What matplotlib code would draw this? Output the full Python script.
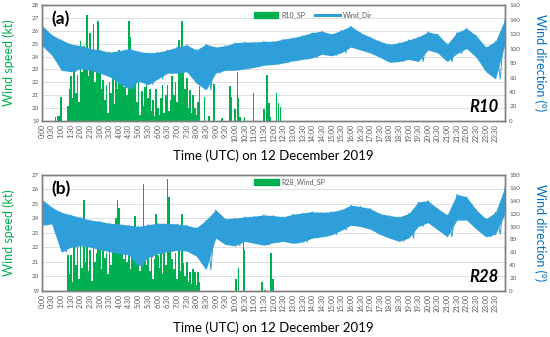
import matplotlib
matplotlib.use("Agg")
import matplotlib.pyplot as plt
from matplotlib.patches import Patch
from matplotlib.lines import Line2D

plt.rcParams['font.family'] = ['Lato', 'DejaVu Sans']

# x tick labels every 30 min
tick_minutes = list(range(0, 1440, 30))
tick_labels = [f"{m // 60}:{m % 60:02d}" for m in tick_minutes]

# wind direction envelope, every 30 min (deg)
dir_minutes = list(range(0, 1441, 30))
r10_dir_hi = [132, 119, 112, 106, 104, 100, 98, 95, 97, 100, 96, 94, 95, 98, 102, 105,
              98, 106, 102, 104, 108, 109, 109, 110, 110, 113, 115, 118, 122, 124, 120, 125,
              131, 122, 116, 110, 106, 108, 112, 116, 123, 120, 106, 122, 128, 118, 102, 110, 141]
r10_dir_lo = [104, 91, 70, 68, 72, 70, 66, 61, 52, 44, 55, 50, 58, 66, 66, 68,
              52, 43, 66, 70, 70, 72, 74, 77, 78, 80, 83, 85, 87, 92, 90, 94,
              102, 98, 94, 88, 81, 82, 85, 82, 98, 94, 82, 93, 100, 88, 68, 58, 107]
r28_dir_hi = [142, 130, 122, 118, 114, 110, 108, 105, 104, 102, 100, 103, 105, 105, 104, 102,
              98, 110, 126, 112, 113, 115, 116, 118, 117, 115, 119, 121, 123, 122, 123, 126,
              133, 131, 128, 120, 117, 115, 120, 138, 140, 128, 118, 150, 146, 126, 112, 122, 162]
r28_dir_lo = [102, 104, 60, 68, 70, 68, 64, 61, 58, 56, 38, 52, 58, 61, 63, 62,
              54, 33, 82, 72, 70, 77, 74, 71, 75, 77, 74, 76, 82, 84, 87, 94,
              102, 100, 96, 88, 82, 77, 82, 100, 106, 95, 84, 110, 110, 96, 84, 88, 120]

# R10 wind speed bars (kt)
r10_min = [42, 48, 52, 59] + list(range(80, 491, 5)) + \
          [505, 520, 535, 560, 585, 588, 600, 608, 611, 615, 630, 657, 690, 700, 705, 711, 729, 735, 741]
r10_sp = [19.3, 19.4, 19.4, 20.9,
          20.2, 21.5, 22.5, 20.8, 23.0, 21.2, 22.6, 20.5, 25.2, 22.8, 24.8, 23.0, 27.2, 22.5,
          25.8, 23.2, 26.5, 22.0, 24.0, 26.8, 23.5, 21.5, 22.2, 20.6, 21.8, 19.6, 22.0, 21.2,
          22.5, 20.3, 23.0, 21.5, 24.5, 22.8, 23.6, 21.6, 23.2, 21.0, 26.8, 25.5, 23.0, 22.2,
          23.2, 20.5, 22.0, 19.5, 21.3, 20.2, 21.6, 22.8, 20.8, 21.5, 19.8, 20.6, 19.4, 21.5,
          20.0, 19.5, 20.8, 21.8, 19.6, 21.0, 21.8, 19.8, 20.6, 22.5, 21.0, 22.0, 20.5, 25.3,
          23.5, 26.8, 24.0, 21.5, 22.3, 20.0, 21.4, 19.6, 21.0, 20.0, 19.5, 20.5, 21.7,
          20.9, 19.4, 21.9, 19.2, 21.7, 20.9, 19.9, 22.8, 20.8, 19.3, 19.3, 21.2, 19.9, 22.6,
          20.4, 19.3, 21.2, 20.4, 20.1]

# R28 wind speed bars (kt)
r28_min = list(range(80, 491, 5)) + [604, 611, 626, 630, 684, 693, 712, 719]
r28_sp = [21.5, 20.2, 21.5, 19.6, 22.3, 20.8, 22.0, 19.8, 22.5, 20.6, 25.3, 21.0, 22.0, 20.4,
          21.8, 19.7, 22.5, 21.0, 21.6, 23.5, 22.0, 20.5, 22.7, 21.3, 21.6, 20.2, 22.0, 20.8,
          21.8, 22.5, 24.0, 25.3, 24.7, 22.8, 23.5, 21.2, 22.6, 21.0, 22.5, 20.5, 22.8, 21.6,
          24.2, 21.8, 22.5, 20.4, 21.5, 26.4, 22.3, 20.8, 21.8, 20.4, 22.5, 19.8, 21.2, 24.3,
          21.5, 20.6, 22.0, 20.2, 21.6, 20.8, 26.7, 25.5, 22.0, 21.2, 20.5, 21.6, 19.8, 22.1,
          20.4, 24.3, 20.9, 20.0, 21.0, 19.6, 20.3, 19.5, 20.5, 20.3, 19.4, 20.3, 19.6,
          19.8, 20.6, 23.7, 21.8, 19.6, 19.1, 21.6, 19.8]

GREEN = '#00B050'
BLUE = '#2E9FD8'
AXBLUE = '#0070C0'
GRAY = '#595959'


def panel(rect, bar_t, bar_v, hi, lo, sp_max, dir_max, tag, site, leg_items, leg_loc):
    ax = fig.add_axes(rect)
    ax.bar(bar_t, bar_v, width=5, color=GREEN, linewidth=0)
    ax.set_ylim(19, sp_max)
    ax.set_yticks(range(19, sp_max + 1))
    ax.set_xlim(0, 1440)
    ax.set_xticks(tick_minutes)
    ax.set_xticklabels(tick_labels, rotation=90, fontsize=5, color=GRAY)
    ax.grid(axis='y', color='#d9d9d9', linewidth=0.6)
    ax.set_axisbelow(True)
    ax.tick_params(axis='both', length=0, pad=2)
    ax.tick_params(axis='y', labelsize=4.5, labelcolor=GRAY)

    ax2 = ax.twinx()
    ax2.fill_between(dir_minutes, lo, hi, color=BLUE, linewidth=0)
    # zigzag between the high and low readings gives the ragged band edge
    zig_t, zig_v = [], []
    for t, h, l in zip(dir_minutes, hi, lo):
        zig_t += [t, t + 15]
        zig_v += [h, l]
    ax2.plot(zig_t, zig_v, color=BLUE, linewidth=0.7)
    ax2.set_ylim(0, dir_max)
    ax2.set_yticks(range(0, dir_max + 1, 20))
    ax2.tick_params(axis='y', length=0, pad=3, labelsize=4.5, labelcolor=GRAY)
    for a in (ax, ax2):
        for s in a.spines.values():
            s.set_color('#7f7f7f')
            s.set_linewidth(1.0)

    ax2.text(0.02, 0.95, tag, transform=ax2.transAxes, fontsize=12.5,
             fontweight='bold', va='top', ha='left')
    ax2.text(0.985, 0.05, site, transform=ax2.transAxes, fontsize=12,
             fontweight='bold', style='italic', va='bottom', ha='right')
    handles, labels = leg_items
    ax2.legend(handles, labels, loc='center', bbox_to_anchor=leg_loc, ncol=len(labels),
               frameon=False, fontsize=5, labelcolor=GRAY, handlelength=3.5,
               handleheight=0.8, columnspacing=1.5, handletextpad=0.4)
    return ax


fig = plt.figure(figsize=(5.5, 3.37), dpi=100)

leg_a = ([Patch(color=GREEN), Line2D([], [], color=BLUE, linewidth=2.2)], ['R10_SP', 'Wind_Dir'])
leg_b = ([Patch(color=GREEN)], ['R28_Wind_SP'])

panel([0.0764, 0.641, 0.842, 0.344], r10_min, r10_sp, r10_dir_hi, r10_dir_lo,
      28, 160, '(a)', 'R10', leg_a, (0.585, 0.915))
panel([0.0764, 0.1365, 0.842, 0.3445], r28_min, r28_sp, r28_dir_hi, r28_dir_lo,
      27, 180, '(b)', 'R28', leg_b, (0.535, 0.94))

for yc, yx in [(63, 156), (233, 328)]:
    fig.text(8.5 / 550, 1 - yc / 337, 'Wind speed (kt)', rotation=90, color=GREEN,
             fontsize=9, ha='center', va='center')
    fig.text(540 / 550, 1 - yc / 337, 'Wind direction (°)', rotation=270, color=AXBLUE,
             fontsize=9, ha='center', va='center')
    fig.text(273 / 550, 1 - yx / 337, 'Time (UTC) on 12 December 2019',
             fontsize=9.5, ha='center', va='center')

fig.savefig('out.png', dpi=100)
